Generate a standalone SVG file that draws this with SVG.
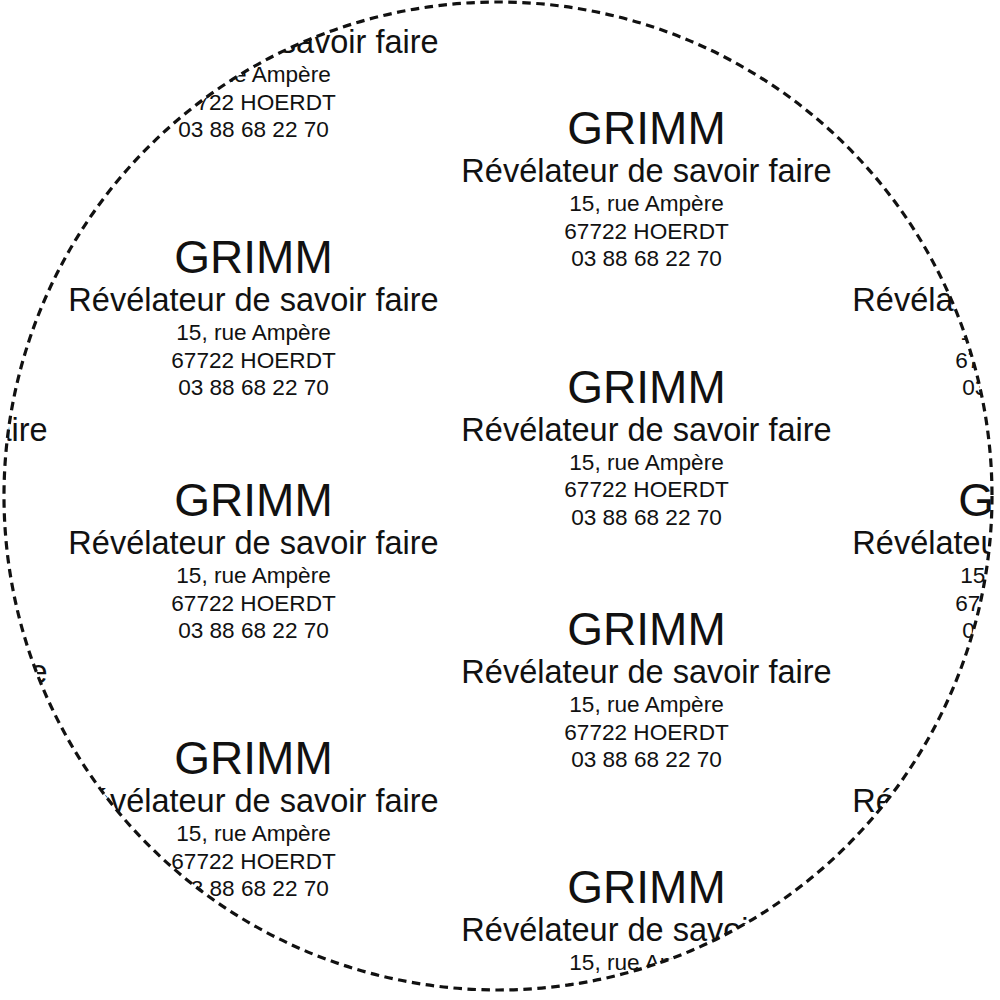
<svg xmlns="http://www.w3.org/2000/svg" width="1000" height="1000" viewBox="0 0 1000 1000">
<style>
text{font-family:"Liberation Sans",Arial,Helvetica,sans-serif;fill:#111;text-anchor:middle}
.t{font-size:46px}
.s{font-size:32.5px}
.a{font-size:22.6px}
.ring{fill:none;stroke:#111;stroke-width:3.2;stroke-dasharray:8.5 5.5}
</style>
<defs>
<clipPath id="disc"><circle cx="498" cy="496" r="494"/></clipPath>
<g id="card">
<text class="t" y="0">GRIMM</text>
<text class="s" y="38">Révélateur de savoir faire</text>
<text class="a" y="67">15, rue Ampère</text>
<text class="a" y="94.5">67722 HOERDT</text>
<text class="a" y="122">03 88 68 22 70</text>
</g>
</defs>
<rect width="1000" height="1000" fill="#fff"/>
<g clip-path="url(#disc)">
<g id="a0"><use href="#card" x="253.5" y="15"/></g>
<g id="a1"><use href="#card" x="253.5" y="273.3"/></g>
<g id="a2"><use href="#card" x="253.5" y="516"/></g>
<g id="a3"><use href="#card" x="253.5" y="774.3"/></g>
<g id="b0"><use href="#card" x="646.5" y="144"/></g>
<g id="b1"><use href="#card" x="646.5" y="402.7"/></g>
<g id="b2"><use href="#card" x="646.5" y="645"/></g>
<g id="b3"><use href="#card" x="646.5" y="903.3"/></g>
<g id="c1"><use href="#card" x="1037.5" y="273.3"/></g>
<g id="c2"><use href="#card" x="1037.5" y="516"/></g>
<g id="c3"><use href="#card" x="1037.5" y="774.3"/></g>
<g id="d1"><use href="#card" x="-137.5" y="402.7"/></g>
<g id="d2"><use href="#card" x="-137.5" y="645"/></g>
</g>
<g id="outline"><circle class="ring" cx="498" cy="496" r="494"/></g>
</svg>
